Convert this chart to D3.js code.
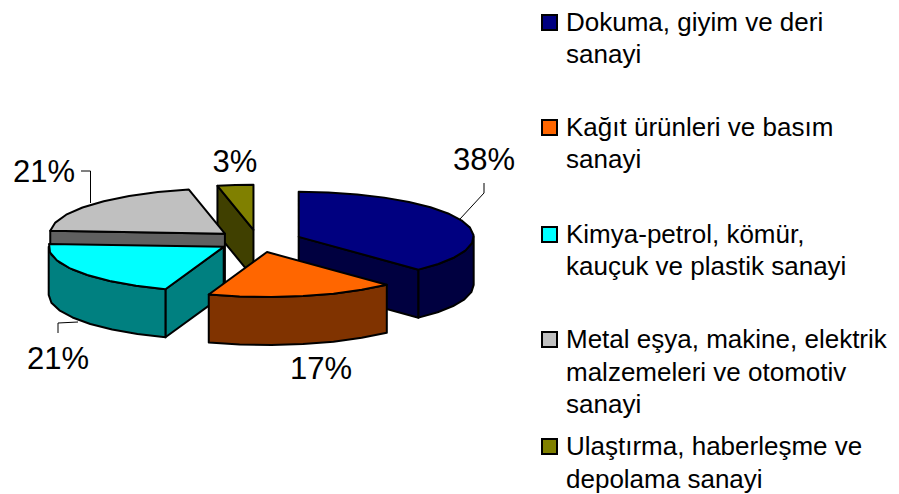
<!DOCTYPE html>
<html><head><meta charset="utf-8">
<script src="https://cdn.jsdelivr.net/npm/d3@7"></script>
<style>html,body{margin:0;padding:0;background:#fff}svg{display:block}text{font-family:"Liberation Sans",Arial,sans-serif;fill:#000}</style>
</head><body><svg id="c" width="899" height="494"></svg>
<script>
const categories = ["Dokuma, giyim ve deri sanayi","Kağıt ürünleri ve basım sanayi","Kimya-petrol, kömür, kauçuk ve plastik sanayi","Metal eşya, makine, elektrik malzemeleri ve otomotiv sanayi","Ulaştırma, haberleşme ve depolama sanayi"];
const legendLines = [["Dokuma, giyim ve deri","sanayi"],["Kağıt ürünleri ve basım","sanayi"],["Kimya-petrol, kömür,","kauçuk ve plastik sanayi"],["Metal eşya, makine, elektrik","malzemeleri ve otomotiv","sanayi"],["Ulaştırma, haberleşme ve","depolama sanayi"]];
const values = [38, 17.4, 20.6, 20.7, 3.3];
const topColors = ["#000080","#FF6600","#00FFFF","#C0C0C0","#808000"];
const wallColors = ["#000040","#803300","#008080","#606060","#404000"];

const W=899,H=494, cx=258, cy=241, rx=175, ry=45, depth=48;
const explodes=[0.25,0.25,0.235,0.25,0.25];
const svg=d3.select("#c");
const pieGen=d3.pie().value(d=>d).sort(null);
const arcs=pieGen(values).map((a,i)=>{
  const mid=(a.startAngle+a.endAngle)/2;
  return {...a,i,ox:cx+explodes[i]*rx*Math.sin(mid),oy:cy-explodes[i]*ry*Math.cos(mid)};
});
const P=(s,ang,r=1,dz=0)=>[s.ox+r*rx*Math.sin(ang),s.oy-r*ry*Math.cos(ang)+dz];
const line=d3.line();
function arcPts(s,a0,a1,dz=0){const n=Math.max(2,Math.round((a1-a0)/(Math.PI/18)));return d3.range(n+1).map(k=>P(s,a0+(a1-a0)*k/n,1,dz));}
const drawOrder=[4,3,0,2,1];
const g=svg.append("g").attr("stroke","#000").attr("stroke-width",2).attr("stroke-linejoin","round");
drawOrder.forEach(i=>{
  const s=arcs[i],wc=wallColors[i],PI=Math.PI;
  const poly=pts=>g.append("path").attr("d",line(pts)+"Z");
  const a0=s.startAngle,a1=s.endAngle;
  const apex=[s.ox,s.oy],apexB=[s.ox,s.oy+depth];
  if(a0>PI) poly([apex,P(s,a0),P(s,a0,1,depth),apexB]).attr("fill",wc);
  if(a1<PI) poly([apex,P(s,a1),P(s,a1,1,depth),apexB]).attr("fill",wc);
  const f0=Math.max(a0,PI/2),f1=Math.min(a1,PI*1.5);
  if(f1>f0){poly([...arcPts(s,f0,f1),...arcPts(s,f0,f1,depth).reverse()]).attr("fill",wc);}
  poly([apex,...arcPts(s,a0,a1)]).attr("fill",topColors[i]);
});
// leader lines + labels
const labels=[{i:0,x:484,y:170,lead:[[460,219],[484,193],[484,183]]},{i:1,x:321,y:379},{i:2,x:58,y:369,lead:[[78,322],[58,323],[58,333]]},{i:3,x:44,y:182,lead:[[90.5,203],[90.5,171],[81,171]]},{i:4,x:235,y:172}];
svg.append("g").selectAll("path").data(labels.filter(d=>d.lead)).join("path").attr("d",d=>line(d.lead)).attr("fill","none").attr("stroke","#000").attr("stroke-width",1);
svg.append("g").selectAll("text").data(labels).join("text").attr("x",d=>d.x).attr("y",d=>d.y).attr("text-anchor","middle").attr("font-size",31).text(d=>Math.round(values[d.i])+"%");
// legend
const baselines=[[31,63],[136,168],[243,275],[348,381,413],[455,488]];
const lg=svg.append("g").attr("font-size",26);
legendLines.forEach((ls,i)=>{
  lg.append("rect").attr("x",542).attr("y",baselines[i][0]-16).attr("width",15).attr("height",15).attr("fill",topColors[i]).attr("stroke","#000").attr("stroke-width",2);
  ls.forEach((t,k)=>lg.append("text").attr("x",566).attr("y",baselines[i][k]).text(t));
});
</script></body></html>
